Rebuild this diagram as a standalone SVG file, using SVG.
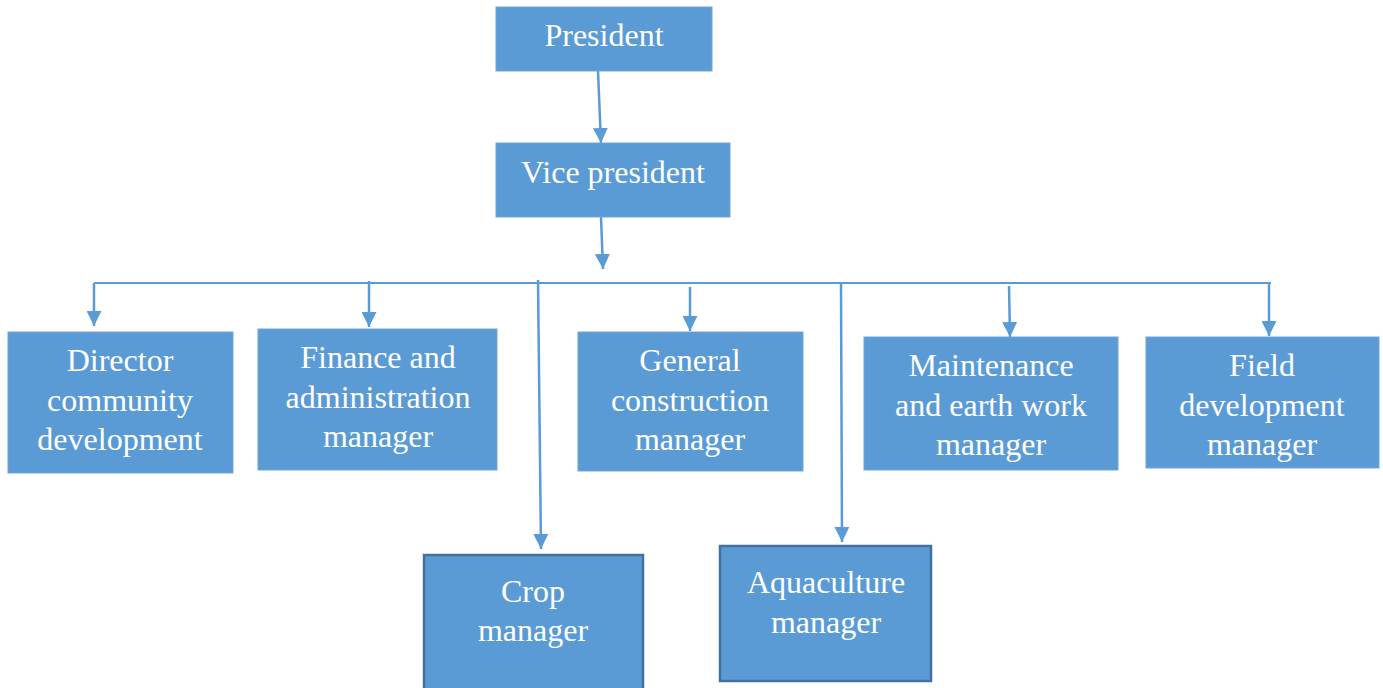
<svg xmlns="http://www.w3.org/2000/svg" width="1383" height="688" viewBox="0 0 1383 688">
<style>
.box{fill:#5b9bd5;stroke:#6ea6d9;stroke-width:1}
.dbox{fill:#5b9bd5;stroke:#41719c;stroke-width:2.5}
.t{font-family:"Liberation Serif","Times New Roman",serif;font-size:32px;fill:#ffffff;text-anchor:middle}
.c{stroke:#5b9bd5;stroke-width:2.5;fill:none;marker-end:url(#ah)}
.h{stroke:#5b9bd5;stroke-width:2;fill:none}
</style>
<defs>
<marker id="ah" viewBox="0 0 10 10" refX="10" refY="5" markerUnits="userSpaceOnUse" markerWidth="15" markerHeight="15" orient="auto">
<path d="M0,0 L10,5 L0,10 Z" fill="#5b9bd5"/>
</marker>
</defs>
<g id="connectors">
<line class="c" x1="598" y1="71" x2="601" y2="143"/>
<line class="c" x1="601" y1="217" x2="603" y2="269"/>
<line class="h" x1="94" y1="283" x2="1271" y2="283"/>
<line class="c" x1="94" y1="283" x2="94" y2="326"/>
<line class="c" x1="369" y1="281" x2="369" y2="327"/>
<line class="c" x1="538" y1="280" x2="541" y2="549"/>
<line class="c" x1="690" y1="287" x2="690" y2="331"/>
<line class="c" x1="841" y1="283" x2="842" y2="542"/>
<line class="c" x1="1009" y1="286" x2="1010" y2="337"/>
<line class="c" x1="1269" y1="283" x2="1269" y2="336"/>
</g>
<g id="president">
<rect class="box" x="496" y="7" width="216" height="64"/>
<text class="t" x="604" y="46">President</text>
</g>
<g id="vice-president">
<rect class="box" x="496" y="143" width="234" height="74"/>
<text class="t" x="613" y="183">Vice president</text>
</g>
<g id="director">
<rect class="box" x="8" y="332" width="225" height="141"/>
<text class="t" x="120" y="371">Director</text>
<text class="t" x="120" y="411">community</text>
<text class="t" x="120" y="450">development</text>
</g>
<g id="finance">
<rect class="box" x="258" y="329" width="239" height="141"/>
<text class="t" x="378" y="368">Finance and</text>
<text class="t" x="378" y="408">administration</text>
<text class="t" x="378" y="447">manager</text>
</g>
<g id="crop">
<rect class="dbox" x="424" y="555" width="219" height="135"/>
<text class="t" x="533" y="602">Crop</text>
<text class="t" x="533" y="641">manager</text>
</g>
<g id="general">
<rect class="box" x="578" y="332" width="225" height="139"/>
<text class="t" x="690" y="371">General</text>
<text class="t" x="690" y="411">construction</text>
<text class="t" x="690" y="450">manager</text>
</g>
<g id="aquaculture">
<rect class="dbox" x="720" y="546" width="211" height="135"/>
<text class="t" x="826" y="593">Aquaculture</text>
<text class="t" x="826" y="633">manager</text>
</g>
<g id="maintenance">
<rect class="box" x="864" y="337" width="254" height="133"/>
<text class="t" x="991" y="376">Maintenance</text>
<text class="t" x="991" y="416">and earth work</text>
<text class="t" x="991" y="455">manager</text>
</g>
<g id="field">
<rect class="box" x="1146" y="337" width="233" height="131"/>
<text class="t" x="1262" y="376">Field</text>
<text class="t" x="1262" y="416">development</text>
<text class="t" x="1262" y="455">manager</text>
</g>
</svg>
